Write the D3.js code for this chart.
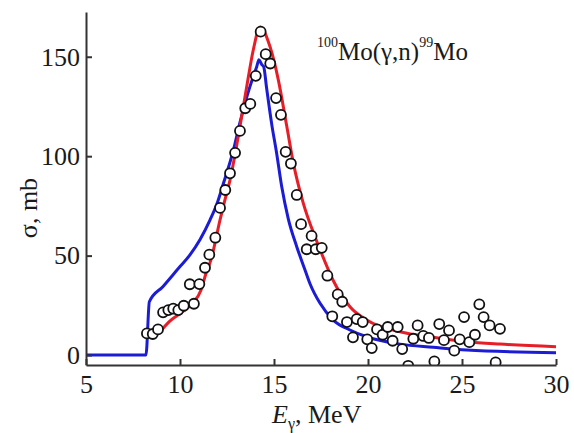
<!DOCTYPE html>
<html><head><meta charset="utf-8">
<script src="https://cdn.jsdelivr.net/npm/d3@7"></script>
<style>body{margin:0;background:#fff}svg{display:block}text{font-family:"Liberation Serif","Times New Roman",serif;fill:#1a1a1a}</style>
</head><body><svg id="c" width="574" height="433"></svg>
<script>
// Data (E in MeV, sigma in mb)
const xTicks = [5, 10, 15, 20, 25, 30];
const yTicks = [0, 50, 100, 150];

const expE = [8.24,8.55,8.83,9.10,9.38,9.64,9.91,10.2,10.74,10.52,11.03,11.33,11.56,11.88,12.13,12.41,12.66,12.93,13.19,13.47,13.74,14.03,14.29,14.56,14.8,15.11,15.37,15.62,15.90,16.21,16.44,17.0,16.74,17.22,17.54,17.84,18.39,18.63,18.1,18.88,19.4,19.72,19.2,19.96,20.2,20.48,20.78,21.05,21.31,21.58,21.82,22.14,22.41,22.64,22.94,23.24,23.53,23.79,24.31,24.04,24.59,24.88,25.11,25.39,25.69,25.92,26.15,26.47,27.02,26.79];
const expS = [10.9,10.6,12.9,21.5,22.6,23.3,22.6,24.8,25.8,35.6,35.7,43.9,50.5,59.0,74.0,83.0,91.4,101.7,112.7,124.1,126.3,140.4,162.6,151.3,146.6,129.2,120.8,102.2,96.3,80.5,65.8,59.9,53.2,53.2,53.9,39.9,30.5,26.8,19.5,16.6,18.1,16.6,8.9,7.9,3.5,12.9,10.2,14.1,7.2,14.1,3.0,-5.4,8.2,14.9,9.6,8.6,-3.2,15.6,12.4,7.5,2.2,7.9,19.1,6.5,10.2,25.5,19.1,14.9,13.2,-3.7];

const redE = [8.94,9.43,10.14,10.67,11.12,11.38,11.65,12.13,12.39,12.66,13.1,13.55,13.9,14.26,14.79,15.23,15.68,16.03,16.56,17.18,17.45,18.15,19.04,19.93,21.7,23.47,25.25,27.02,30];
const redS = [11.7,16.8,21.8,26,32.7,41,48,68,78,88,110,135,153.5,165,155,138.4,115,96.5,76.3,59.5,53,37.5,24.3,17.6,11.7,8.9,6.7,5.5,4.2];

const blueE = [5,8.19,8.37,9.1,10.0,10.5,11.06,11.6,12.0,12.3,12.84,13.19,13.72,14.08,14.2,14.35,14.45,14.61,14.88,15.14,15.41,15.76,16.21,16.65,16.91,17.45,18.15,19.04,19.93,21.7,23.47,25.25,30];
const blueS = [0,0,26.8,34.5,44.5,50,58,68,77,86,103,117,135,145,148.5,146,145,134,116,101.5,84.7,68.5,54.5,42.8,36,26,17.6,12.6,9.2,5.5,3.9,2.5,1.2];

const svg = d3.select('#c');
const x = d3.scaleLinear().domain([5, 30]).range([86, 556]);
const y = d3.scaleLinear().domain([-5, 172.5]).range([365, 12]);

svg.append('defs').append('clipPath').attr('id','clip')
  .append('rect').attr('x',86).attr('y',0).attr('width',480).attr('height',365);

const g = svg.append('g').attr('clip-path','url(#clip)');
const line = d3.line().x(d=>x(d[0])).y(d=>y(d[1])).curve(d3.curveMonotoneX);

g.append('path').datum(blueE.map((e,i)=>[e,blueS[i]]))
  .attr('d',line).attr('fill','none').attr('stroke','#1c1cd4').attr('stroke-width',3);
g.append('path').datum(redE.map((e,i)=>[e,redS[i]]))
  .attr('d',line).attr('fill','none').attr('stroke','#e61e28').attr('stroke-width',3);

g.selectAll('circle').data(expE.map((e,i)=>[e,expS[i]])).join('circle')
  .attr('cx',d=>x(d[0])).attr('cy',d=>y(d[1])).attr('r',5)
  .attr('fill','#fff').attr('stroke','#111').attr('stroke-width',1.8);

const ax = svg.append('g').attr('transform','translate(0,365)')
  .call(d3.axisBottom(x).tickValues(xTicks).tickSizeInner(-6).tickSizeOuter(0).tickPadding(10));
const ay = svg.append('g').attr('transform','translate(86,0)')
  .call(d3.axisLeft(y).tickValues(yTicks).tickSizeInner(-6).tickSizeOuter(0).tickPadding(6));
[ax, ay].forEach(a=>{
  a.select('.domain').attr('stroke','#333').attr('stroke-width',2);
  a.selectAll('.tick line').attr('stroke','#333').attr('stroke-width',2);
  a.selectAll('.tick text').attr('font-family','Liberation Serif').attr('font-size',26).attr('fill','#1a1a1a');
});

// axis titles
svg.append('text').attr('transform','translate(37,208) rotate(-90)')
  .attr('text-anchor','middle').attr('font-size',26).text('σ, mb');
const xt = svg.append('text').attr('x',272).attr('y',423).attr('font-size',26);
xt.append('tspan').attr('font-style','italic').text('E');
xt.append('tspan').attr('font-size',16).attr('dy',6).text('γ');
xt.append('tspan').attr('dy',-6).text(', MeV');

// reaction label
const t = svg.append('text').attr('x',317).attr('y',60).attr('font-size',25);
t.append('tspan').attr('font-size',14).attr('dy',-13).text('100');
t.append('tspan').attr('dy',13).text('Mo(γ,n)');
t.append('tspan').attr('font-size',14).attr('dy',-13).text('99');
t.append('tspan').attr('dy',13).text('Mo');
</script></body></html>
